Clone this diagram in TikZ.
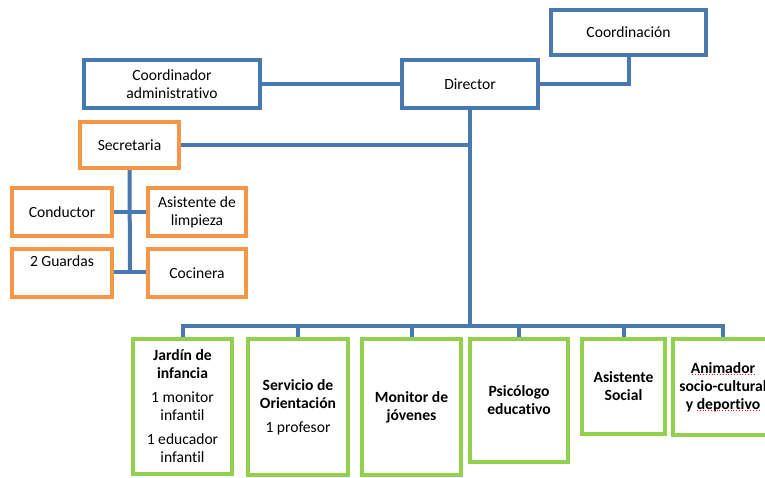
\documentclass[tikz,border=0pt]{standalone}
\usepackage{fontspec}
\setmainfont{Carlito}[Ligatures=NoCommon]
\definecolor{cblue}{HTML}{4A78B0}
\definecolor{corange}{HTML}{F79646}
\definecolor{cgreen}{HTML}{92D050}
\begin{document}
\begin{tikzpicture}[x=1pt,y=-1pt,
  box/.style={draw, line width=4pt, fill=white, inner sep=2pt, align=center,
    font=\fontsize{15.6}{18}\selectfont},
  bbox/.style={box, draw=cblue},
  obox/.style={box, draw=corange},
  gbox/.style={box, draw=cgreen},
  conn/.style={draw=cblue, line width=4pt},
  squig/.style={draw=red, line width=0.8pt, dotted}]
\useasboundingbox (0,0) rectangle (765,477);

% top level
\node[bbox, minimum width=155, minimum height=45] (coord) at (628.5,32.5) {Coordinación};
\node[bbox, minimum width=136, minimum height=48] (director) at (470,84) {Director};
\node[bbox, minimum width=176, minimum height=48] (cadmin) at (172,84) {Coordinador\\administrativo};

% orange group
\node[obox, minimum width=99, minimum height=46] (secre) at (129.5,145) {Secretaria};
\node[obox, minimum width=100, minimum height=48] (conductor) at (62,212) {Conductor};
\node[obox, minimum width=98, minimum height=48] (limpieza) at (197,212) {Asistente de\\limpieza};
\node[obox, minimum width=100, minimum height=48, text depth=24pt] (guardas) at (62,273) {2 Guardas};
\node[obox, minimum width=98, minimum height=48] (cocinera) at (197,273) {Cocinera};

% green group
\node[gbox, minimum width=99, minimum height=135] (jardin) at (182.5,406.5)
  {\textbf{Jardín de}\\\textbf{infancia}\\[6pt]1 monitor\\infantil\\[6pt]1 educador\\infantil};
\node[gbox, minimum width=100, minimum height=136] (servicio) at (298,407)
  {\textbf{Servicio de}\\\textbf{Orientación}\\[6pt]1 profesor};
\node[gbox, minimum width=99, minimum height=136] (monitor) at (411.5,407)
  {\textbf{Monitor de}\\\textbf{jóvenes}};
\node[gbox, minimum width=98, minimum height=123] (psico) at (519,400.5)
  {\textbf{Psicólogo}\\\textbf{educativo}};
\node[gbox, minimum width=83, minimum height=95] (asocial) at (623.5,386.5)
  {\textbf{Asistente}\\\textbf{Social}};
\node[gbox, minimum width=100, minimum height=96] (animador) at (723,387)
  {\textbf{Animador}\\\textbf{socio-cultural}\\\textbf{y deportivo}};

% spell-check marks
\draw[squig] (692,374) -- (754,374);
\draw[squig] (697,410) -- (760,410);

% connectors
\coordinate (bus) at (470,326);
\coordinate (sj) at (470,145);
\coordinate (gj) at (130,272);
\draw[conn] (cadmin.east) -- (director.west);
\draw[conn] (director.east) -| (coord.south);
\draw[conn] (director.south) -- (bus);
\draw[conn] (secre.east) -- (sj);
\draw[conn] (secre.south) -- (gj);
\draw[conn] (conductor.east) -- (limpieza.west);
\draw[conn] (guardas.east |- gj) -- (cocinera.west |- gj);
\draw[conn] (jardin.north) |- (bus) -| (animador.north);
\draw[conn] (servicio.north) -- (servicio.north |- bus);
\draw[conn] (monitor.north) -- (monitor.north |- bus);
\draw[conn] (psico.north) -- (psico.north |- bus);
\draw[conn] (asocial.north) -- (asocial.north |- bus);
\end{tikzpicture}
\end{document}
